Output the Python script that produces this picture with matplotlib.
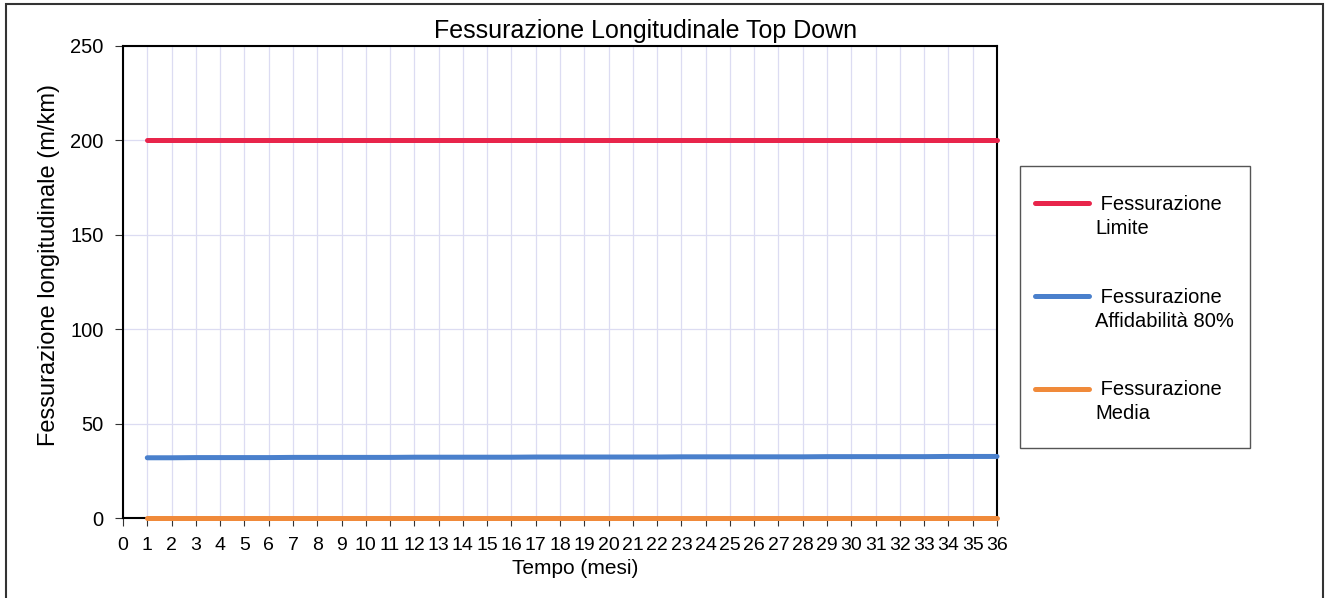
"""
Fessurazione Longitudinale Top Down - recreated chart
"""

import matplotlib
matplotlib.use("Agg")
import matplotlib.pyplot as plt
from matplotlib.patches import Rectangle
from matplotlib.legend_handler import HandlerLine2D

plt.rcParams["font.family"] = ["Liberation Sans", "DejaVu Sans"]

# Data
mesi = list(range(1, 37))
limite = [200, 200, 200, 200, 200, 200, 200, 200, 200, 200, 200, 200,
          200, 200, 200, 200, 200, 200, 200, 200, 200, 200, 200, 200,
          200, 200, 200, 200, 200, 200, 200, 200, 200, 200, 200, 200]
affidabilita_80 = [31.9, 31.9, 32.0, 32.0, 32.0, 32.0, 32.1, 32.1, 32.1, 32.1, 32.1, 32.2,
                   32.2, 32.2, 32.2, 32.2, 32.3, 32.3, 32.3, 32.3, 32.3, 32.3, 32.4, 32.4,
                   32.4, 32.4, 32.4, 32.4, 32.5, 32.5, 32.5, 32.5, 32.5, 32.6, 32.6, 32.6]
media = [0.2, 0.2, 0.2, 0.2, 0.2, 0.2, 0.2, 0.2, 0.2, 0.2, 0.2, 0.2,
         0.2, 0.2, 0.2, 0.2, 0.2, 0.2, 0.2, 0.2, 0.2, 0.2, 0.2, 0.2,
         0.2, 0.2, 0.2, 0.2, 0.2, 0.2, 0.2, 0.2, 0.2, 0.2, 0.2, 0.2]

series_labels = [" Fessurazione\nLimite", " Fessurazione\nAffidabilità 80%", " Fessurazione\nMedia"]
colors = ["#E8254B", "#4A80CC", "#F08A3A"]

W, H = 1325, 598


class TopLineHandler(HandlerLine2D):
    # put the legend line next to the first text line, like Excel does
    def create_artists(self, legend, orig_handle, xdescent, ydescent,
                       width, height, fontsize, trans):
        return super().create_artists(legend, orig_handle, xdescent,
                                      ydescent - 1.35 * fontsize, width, height,
                                      fontsize, trans)


fig = plt.figure(figsize=(W / 100, H / 100), dpi=100)

# Outer chart border
fig.patches.append(Rectangle((6 / W, -0.01), 1317 / W, 1 - 4 / H + 0.01,
                             transform=fig.transFigure, fill=False,
                             edgecolor="#333333", linewidth=1.5))

ax = fig.add_axes([123 / W, 1 - 518 / H, (997 - 123) / W, (518 - 46) / H])

for vals, lab, col in zip([limite, affidabilita_80, media], series_labels, colors):
    ax.plot(mesi, vals, color=col, linewidth=3.6, label=lab,
            solid_capstyle="round", zorder=5, clip_on=False)

ax.set_xlim(0, 36)
ax.set_ylim(0, 250)
ax.set_xticks(range(0, 37))
ax.set_yticks(range(0, 251, 50))
ax.grid(True, color="#DCDCF2", linewidth=0.9)
ax.set_axisbelow(True)

for s in ax.spines.values():
    s.set_color("black")
    s.set_linewidth(1.5)
    s.set_zorder(4)

ax.tick_params(axis="both", direction="out", length=6, color="#333333")
ax.tick_params(axis="y", labelsize=14.5, pad=8)
ax.tick_params(axis="x", labelsize=14, pad=8)

fig.text(646 / W, 1 - 38 / H, "Fessurazione Longitudinale Top Down",
         fontsize=18, ha="center", va="baseline")
ax.set_xlabel("Tempo (mesi)", fontsize=15)
ax.xaxis.set_label_coords(0.517, -0.087)
ax.set_ylabel("Fessurazione longitudinale (m/km)", fontsize=17)
ax.yaxis.set_label_coords(-0.072, 0.536)

# Legend box
fig.patches.append(Rectangle((1020 / W, 1 - 448 / H), 230 / W, 282 / H,
                             transform=fig.transFigure, fill=False,
                             edgecolor="#555555", linewidth=1.0))
leg = fig.legend(loc="upper left", bbox_to_anchor=(1035 / W, 1 - 195 / H),
                 fontsize=14.5, frameon=False, handlelength=2.7, handletextpad=0.3,
                 labelspacing=2.45, borderpad=0, borderaxespad=0,
                 handler_map={plt.Line2D: TopLineHandler()})
for t in leg.get_texts():
    t.set_linespacing(1.35)

plt.savefig("out.png", dpi=100)
plt.close()
